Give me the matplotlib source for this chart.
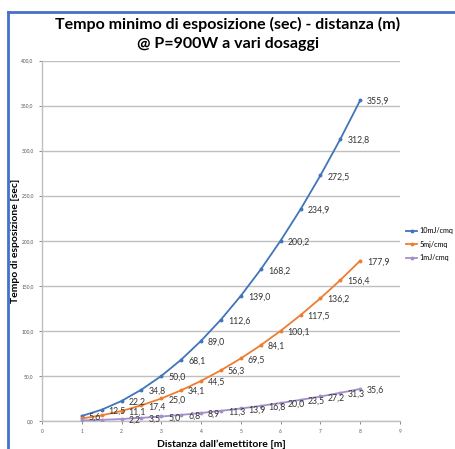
import numpy as np
import matplotlib.pyplot as plt
from matplotlib.lines import Line2D

plt.rcParams['font.family'] = ['Lato', 'DejaVu Sans']

distanza = [1, 1.5, 2, 2.5, 3, 3.5, 4, 4.5, 5, 5.5, 6, 6.5, 7, 7.5, 8]
t_10mj = [5.6, 12.5, 22.2, 34.8, 50.0, 68.1, 89.0, 112.6, 139.0, 168.2,
          200.2, 234.9, 272.5, 312.8, 355.9]
t_5mj = [2.8, 6.3, 11.1, 17.4, 25.0, 34.1, 44.5, 56.3, 69.5, 84.1,
         100.1, 117.5, 136.2, 156.4, 177.9]
t_1mj = [0.6, 1.3, 2.2, 3.5, 5.0, 6.8, 8.9, 11.3, 13.9, 16.8,
         20.0, 23.5, 27.2, 31.3, 35.6]

series = [
    ("10mJ/cmq", t_10mj, "#4174B9", 0),
    ("5mj/cmq", t_5mj, "#EE7D31", 2),
    ("1mJ/cmq", t_1mj, "#A390CA", 2),
]

fig = plt.figure(figsize=(4.56, 4.49), dpi=100)
ax = fig.add_axes([42 / 456, 1 - 421 / 449, (400 - 42) / 456, (421 - 60.5) / 449])

for name, vals, col, first_lbl in series:
    ax.plot(distanza, vals, color=col, lw=1.3, marker="o", ms=1.8, label=name, zorder=3)
    for xv, yv in list(zip(distanza, vals))[first_lbl:]:
        ax.annotate(f"{yv:.1f}".replace(".", ","), (xv, yv), xytext=(5, -1),
                    textcoords="offset points", fontsize=6.3, color="#333333",
                    va="center", ha="left", zorder=4)

ax.set_xlim(0, 9)
ax.set_ylim(0, 400)
ax.set_xticks(range(10))
ax.set_yticks(range(0, 401, 50))
ax.set_yticklabels([f"{v:.1f}".replace(".", ",") for v in range(0, 401, 50)])
ax.tick_params(axis="both", labelsize=3.5, colors="#888888", length=2.5, width=0.7,
               labelcolor="#555555")
ax.grid(axis="y", color="#BFBFBF", lw=1)
ax.set_axisbelow(True)
for s in ["top", "right"]:
    ax.spines[s].set_visible(False)
for s in ["left", "bottom"]:
    ax.spines[s].set_color("#BFBFBF")
    ax.spines[s].set_linewidth(1)

ax.set_xlabel("Distanza dall’emettitore [m]", fontsize=7.5, fontweight="bold", labelpad=4)
ax.set_ylabel("Tempo di esposizione [sec]", fontsize=7.5, fontweight="bold")
ax.yaxis.set_label_coords(-0.062, 0.5)

fig.text(0.5, 1 - 24 / 449, "Tempo minimo di esposizione (sec) - distanza (m)",
         ha="center", va="center", fontsize=11.5, fontweight="bold")
fig.text(0.5, 1 - 44 / 449, "@ P=900W a vari dosaggi",
         ha="center", va="center", fontsize=11.5, fontweight="bold")

leg = ax.legend(loc="center left", bbox_to_anchor=(1.0, 0.49), frameon=False,
                fontsize=5.2, handlelength=1.6, handletextpad=0.3, labelspacing=0.9,
                borderaxespad=0.4)

# blue selection frame of the screenshot
fig.add_artist(Line2D([8.5 / 456, 8.5 / 456], [0, 1 - 12 / 449], color="#4472C4",
                      lw=2, transform=fig.transFigure))
fig.add_artist(Line2D([8.5 / 456, 1], [1 - 12 / 449, 1 - 12 / 449], color="#4472C4",
                      lw=2, transform=fig.transFigure))

fig.savefig("out.png", dpi=100)
